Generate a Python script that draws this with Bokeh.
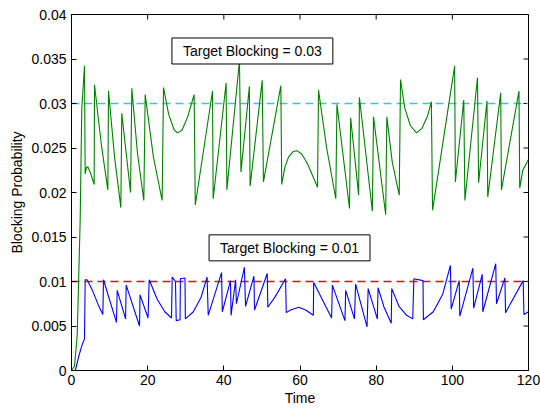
import math
from bokeh.plotting import figure
from bokeh.models import Range1d, FixedTicker, Label
from bokeh.embed import file_html
from bokeh.resources import INLINE

# ---- data ----
green_t = [0, 0.8, 1.5, 2.28, 2.7, 3.41,
           3.59, 3.9, 4.29, 5.0, 5.95,
           6.04, 7.8, 9.54,
           9.72, 11.3, 12.96,
           13.2, 15.5,
           15.84, 17.3, 18.99,
           19.35, 21.5, 23.8,
           24.16, 25.5, 27.0, 27.8, 29.0, 30.5, 32.2,
           32.5, 37.03,
           37.2, 40.6,
           40.8, 44.1,
           44.5, 46.7,
           46.9, 50.07,
           50.4, 54.97,
           55.2, 56.0, 57.0, 58.2, 59.2, 60.5, 62.0, 64.6,
           64.86, 67.0, 69.4,
           69.7, 73.0,
           73.3, 75.4,
           75.6, 79.0,
           79.3, 82.5,
           82.8, 84.2, 86.05,
           86.4, 87.5, 89.0, 90.6, 92.0, 93.5, 94.5,
           94.8, 100.6,
           100.8, 103.0,
           103.3, 106.6,
           106.9, 109.1,
           109.3, 112.7,
           112.9, 117.5,
           117.7, 118.5, 120.0]
green_p = [0, 0.0005, 0.004, 0.0169, 0.0294, 0.0342,
           0.0221, 0.0228, 0.0229, 0.0222, 0.0209,
           0.0321, 0.0255, 0.0203,
           0.0314, 0.0240, 0.0183,
           0.0289, 0.0200,
           0.0317, 0.0245, 0.0191,
           0.0310, 0.0240, 0.0191,
           0.0318, 0.0288, 0.0270, 0.0267, 0.0270, 0.0285, 0.0310,
           0.0186, 0.0314,
           0.0193, 0.0323,
           0.0203, 0.0348,
           0.0223, 0.0319,
           0.0207, 0.0326,
           0.0212, 0.0320,
           0.0209, 0.0228, 0.0240, 0.0246, 0.0247, 0.0243, 0.0232, 0.0206,
           0.0315, 0.0250, 0.0193,
           0.0299, 0.0182,
           0.0284, 0.0197,
           0.0307, 0.0179,
           0.0285, 0.0175,
           0.0285, 0.0235, 0.0197,
           0.0327, 0.0295, 0.0275, 0.0267, 0.0272, 0.0286, 0.0302,
           0.0180, 0.0342,
           0.0212, 0.0304,
           0.0191, 0.0329,
           0.0211, 0.0303,
           0.0195, 0.0312,
           0.0203, 0.0314,
           0.0205, 0.0225, 0.0237]

blue_t = [0, 1.0, 1.9, 2.8, 3.41,
          3.59, 4.1, 5.5, 7.0, 8.23,
          8.4, 11.8,
          12.0, 14.2,
          14.36, 17.86,
          18.0, 20.1,
          20.4, 22.5, 24.5, 26.26,
          26.44, 27.3,
          27.5, 28.5,
          28.6, 29.8,
          29.9, 32.0, 34.0, 35.6,
          35.9, 39.4,
          39.6, 41.75,
          41.9, 43.1,
          43.3, 45.4,
          45.7, 47.9,
          48.06, 51.4,
          51.55, 53.5, 56.2,
          56.4, 57.5, 59.7, 61.5, 63.5,
          63.6, 68.3,
          68.5, 71.8,
          72.0, 74.3,
          74.6, 77.6,
          77.9, 80.3,
          80.5, 82.0, 83.95,
          84.1, 86.0, 88.0, 89.6,
          89.9, 92.3,
          92.4, 95.0, 97.5, 99.5,
          99.7, 101.8,
          101.97, 105.4,
          105.6, 107.85,
          108.0, 111.4,
          111.6, 113.8,
          113.97, 118.6,
          118.8, 120.0]
blue_p = [0, 0.0, 0.0016, 0.0029, 0.00355,
          0.0102, 0.0102, 0.0090, 0.0074, 0.0063,
          0.0102, 0.0054,
          0.0090, 0.0058,
          0.0096, 0.0050,
          0.0085, 0.0059,
          0.0102, 0.0080, 0.0066, 0.0059,
          0.0105, 0.0100,
          0.0056, 0.0057,
          0.0103, 0.0104,
          0.0058, 0.0066, 0.0082, 0.0105,
          0.0062, 0.0110,
          0.0066, 0.0101,
          0.0062, 0.0102,
          0.0075, 0.0116,
          0.0072, 0.0106,
          0.0068, 0.0109,
          0.0071, 0.0083, 0.0103,
          0.0065, 0.0068, 0.0071, 0.0068, 0.0062,
          0.0099, 0.0059,
          0.0096, 0.0056,
          0.0090, 0.0058,
          0.0097, 0.0049,
          0.0092, 0.0058,
          0.0093, 0.0072, 0.0053,
          0.0092, 0.0072, 0.0062, 0.0058,
          0.0103, 0.0101,
          0.0057, 0.0066, 0.0086, 0.0118,
          0.0069, 0.0101,
          0.0061, 0.0115,
          0.0070, 0.0108,
          0.0066, 0.0120,
          0.0075, 0.0104,
          0.0065, 0.0101,
          0.0063, 0.0066]

targets = [0.03, 0.01]
target_labels = ["Target Blocking = 0.03", "Target Blocking = 0.01"]
x_ticks = [0, 20, 40, 60, 80, 100, 120]
y_ticks = [0, 0.005, 0.01, 0.015, 0.02, 0.025, 0.03, 0.035, 0.04]
y_tick_labels = ["0", "0.005", "0.01", "0.015", "0.02", "0.025", "0.03", "0.035", "0.04"]

FONT = "Liberation Sans"
FS = "14px"
X0, X1 = x_ticks[0], x_ticks[-1]
Y0, Y1 = y_ticks[0], y_ticks[-1]

p = figure(width=540, height=408, output_backend="svg", toolbar_location=None,
           x_range=Range1d(X0, X1), y_range=Range1d(Y0, Y1),
           min_border_left=71, min_border_right=12, min_border_top=14, min_border_bottom=37,
           background_fill_color="white", border_fill_color="white")
p.outline_line_color = "black"
p.outline_line_width = 1
p.xgrid.visible = False
p.ygrid.visible = False

for ax in p.xaxis:
    ax.ticker = FixedTicker(ticks=x_ticks)
    ax.axis_label = "Time"
for ax in p.yaxis:
    ax.ticker = FixedTicker(ticks=y_ticks)
    ax.major_label_overrides = {t: s for t, s in zip(y_ticks, y_tick_labels)}
    ax.axis_label = "Blocking Probability"

for ax in list(p.xaxis) + list(p.yaxis):
    ax.major_tick_in = 5
    ax.major_tick_out = 0
    ax.minor_tick_line_color = None
    ax.axis_line_color = "black"
    ax.major_tick_line_color = "black"
    ax.major_label_text_font = FONT
    ax.major_label_text_font_size = FS
    ax.major_label_text_color = "black"
    ax.axis_label_text_font = FONT
    ax.axis_label_text_font_size = FS
    ax.axis_label_text_font_style = "normal"
    ax.axis_label_text_color = "black"
p.xaxis.major_label_standoff = 4
p.xaxis.axis_label_standoff = 2
p.yaxis.major_label_standoff = 5
p.yaxis.axis_label_standoff = 3

# inward ticks on the top and right edges (half of each dash is clipped by the frame)
p.scatter(x_ticks, [Y1] * len(x_ticks), marker="dash", size=10, angle=math.pi / 2,
          line_color="black", line_width=1)
p.scatter([X1] * len(y_ticks), y_ticks, marker="dash", size=10, angle=0,
          line_color="black", line_width=1)

target_colors = ["#33CCCC", "#FF0000"]
for t, c in zip(targets, target_colors):
    p.line([X0, X1], [t, t], line_color=c, line_width=1.4, line_dash="8 5")

p.line(green_t, green_p, line_color="#008000", line_width=1.1)
p.line(blue_t, blue_p, line_color="#0000FF", line_width=1.1)

label_pos = [(47.5, 0.0359), (57.25, 0.01378)]
for (lx, ly), txt in zip(label_pos, target_labels):
    p.add_layout(Label(x=lx, y=ly, text=txt, text_align="center", text_baseline="middle",
                       text_font=FONT, text_font_size=FS, text_color="black",
                       background_fill_color="white", border_line_color="black",
                       border_line_width=1, padding=(11, 5)))

open("out.html", "w").write(file_html(p, INLINE))
